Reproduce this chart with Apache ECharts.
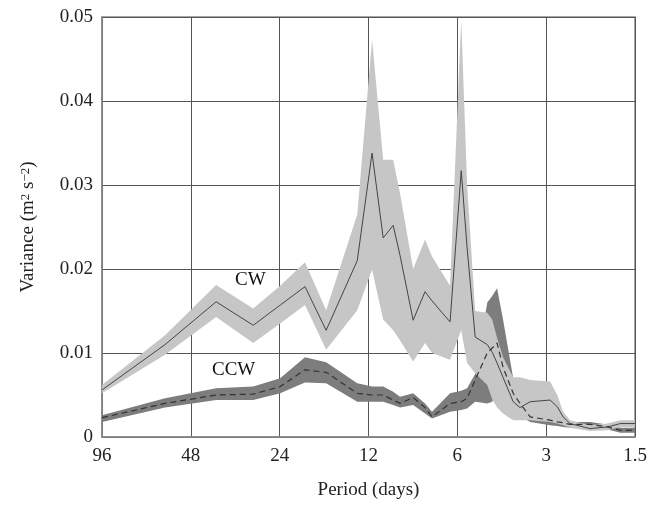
<!DOCTYPE html>
<html>
<head>
<meta charset="utf-8">
<script src="https://cdn.jsdelivr.net/npm/echarts@6/dist/echarts.min.js"></script>
<style>
  html, body { margin: 0; padding: 0; background: #fff; }
  #main { width: 650px; height: 508px; }
</style>
</head>
<body>
<div id="main"></div>
<script>
// period (days) of each spectral estimate
var periods = [96, 58.7, 39.4, 29.5, 23.9, 19.7, 16.7, 13.1, 11.67, 10.7, 9.9, 9.38, 8.47, 7.72, 7.31,
    6.35, 5.82, 5.56, 5.22, 4.75, 4.57, 4.40, 4.20, 3.88, 3.68, 3.40, 2.91, 2.75, 2.63, 2.49, 2.13, 1.86, 1.68, 1.5];

// clockwise variance and its confidence band
var cwMean = [0.0056, 0.0110, 0.0161, 0.0133, 0.0157, 0.0179, 0.0127, 0.0210, 0.0338, 0.0237, 0.0252, 0.0216, 0.0139, 0.0173, 0.0162,
    0.0137, 0.0317, 0.0225, 0.0119, 0.0110, 0.0101, 0.0088, 0.0071, 0.0042, 0.0035, 0.0042, 0.0044, 0.0036, 0.0024, 0.0016, 0.0010, 0.0012, 0.0016, 0.0016];
var cwUpper = [0.0062, 0.0121, 0.0181, 0.0153, 0.0180, 0.0208, 0.0151, 0.0265, 0.0473, 0.0330, 0.0330, 0.0290, 0.0200, 0.0235, 0.0215,
    0.0180, 0.0497, 0.0300, 0.0150, 0.0148, 0.0140, 0.0118, 0.0095, 0.0071, 0.0071, 0.0068, 0.0066, 0.0050, 0.0030, 0.0020, 0.0014, 0.0016, 0.0020, 0.0020];
var cwLower = [0.0052, 0.0098, 0.0143, 0.0112, 0.0135, 0.0157, 0.0104, 0.0151, 0.0199, 0.0140, 0.0127, 0.0115, 0.0090, 0.0112, 0.0100,
    0.0092, 0.0127, 0.0088, 0.0076, 0.0062, 0.0045, 0.0035, 0.0028, 0.0020, 0.0020, 0.0020, 0.0018, 0.0016, 0.0014, 0.0011, 0.0007, 0.0008, 0.0012, 0.0012];

// counter-clockwise variance and its confidence band
var ccwMean = [0.0023, 0.0040, 0.0050, 0.0051, 0.0060, 0.0080, 0.0077, 0.0052, 0.0050, 0.0050, 0.0044, 0.0040, 0.0047, 0.0035, 0.0024,
    0.0040, 0.0042, 0.0046, 0.0068, 0.0100, 0.0106, 0.0112, 0.0083, 0.0052, 0.0040, 0.0024, 0.0020, 0.0018, 0.0017, 0.0015, 0.0015, 0.0012, 0.0008, 0.0008];
var ccwUpper = [0.0026, 0.0046, 0.0058, 0.0060, 0.0070, 0.0095, 0.0089, 0.0064, 0.0060, 0.0060, 0.0054, 0.0048, 0.0052, 0.0040, 0.0030,
    0.0052, 0.0055, 0.0058, 0.0075, 0.0160, 0.0168, 0.0177, 0.0140, 0.0070, 0.0050, 0.0032, 0.0024, 0.0022, 0.0020, 0.0018, 0.0018, 0.0015, 0.0011, 0.0011];
var ccwLower = [0.0018, 0.0035, 0.0044, 0.0044, 0.0052, 0.0065, 0.0064, 0.0042, 0.0042, 0.0042, 0.0038, 0.0035, 0.0038, 0.0028, 0.0022,
    0.0030, 0.0032, 0.0034, 0.0042, 0.0040, 0.0042, 0.0055, 0.0055, 0.0032, 0.0025, 0.0018, 0.0014, 0.0013, 0.0012, 0.0011, 0.0011, 0.0009, 0.0005, 0.0005];

var tickPeriods = [96, 48, 24, 12, 6, 3, 1.5];

// x position = octaves from 96 days
function oct(p) { return Math.log(96 / p) / Math.LN2; }
function pairs(vals) {
    return periods.map(function (p, i) { return [oct(p), vals[i]]; });
}
function bandData(up, lo) {
    return periods.map(function (p, i) { return [oct(p), up[i], lo[i]]; });
}
// one polygon for the whole band, drawn on the first item
function bandSeries(up, lo, color, z) {
    var data = bandData(up, lo);
    return {
        type: 'custom',
        data: data,
        encode: { x: 0, y: [1, 2] },
        z: z,
        silent: true,
        renderItem: function (params, api) {
            if (params.dataIndex !== 0) return;
            var pts = [];
            for (var i = 0; i < data.length; i++) pts.push(api.coord([data[i][0], data[i][1]]));
            for (var j = data.length - 1; j >= 0; j--) pts.push(api.coord([data[j][0], data[j][2]]));
            return {
                type: 'polygon',
                shape: { points: pts },
                style: { fill: color, stroke: null }
            };
        }
    };
}

var font = 'Liberation Serif';
var chart = echarts.init(document.getElementById('main'));
var option = {
    animation: false,
    backgroundColor: '#fff',
    grid: {
        left: 102, right: 15, top: 17, bottom: 71,
        show: true, borderColor: '#8a8a8a', borderWidth: 1.5
    },
    xAxis: {
        type: 'value',
        min: 0, max: 6, interval: 1,
        name: 'Period (days)',
        nameLocation: 'middle',
        nameGap: 44,
        nameTextStyle: { fontFamily: font, fontSize: 19, color: '#222' },
        axisLine: { lineStyle: { color: '#8a8a8a', width: 1.5 } },
        axisTick: { show: false },
        axisLabel: {
            fontFamily: font, fontSize: 19, color: '#222', margin: 10,
            formatter: function (v) { return String(tickPeriods[Math.round(v)]); }
        },
        splitLine: { show: true, lineStyle: { color: '#555', width: 1 } }
    },
    yAxis: {
        type: 'value',
        min: 0, max: 0.05, interval: 0.01,
        name: 'Variance (m{sup|2} s{sup|\u22122})',
        nameLocation: 'middle',
        nameGap: 64,
        nameTextStyle: {
            fontFamily: font, fontSize: 19, color: '#222',
            rich: { sup: { fontFamily: font, fontSize: 13, color: '#222', verticalAlign: 'top', padding: [0, 0, 6, 0] } }
        },
        axisLine: { lineStyle: { color: '#8a8a8a', width: 1.5 } },
        axisTick: { show: false },
        axisLabel: {
            fontFamily: font, fontSize: 19, color: '#222', margin: 9,
            formatter: function (v) { return v === 0 ? '0' : v.toFixed(2); }
        },
        splitLine: { show: true, lineStyle: { color: '#555', width: 1 } }
    },
    series: [
        bandSeries(ccwUpper, ccwLower, '#7d7d7d', 2),
        bandSeries(cwUpper, cwLower, '#c6c6c6', 3),
        { type: 'line', name: 'CW', data: pairs(cwMean), symbol: 'none',
          lineStyle: { color: '#444', width: 1 }, z: 4 },
        { type: 'line', name: 'CCW', data: pairs(ccwMean), symbol: 'none',
          lineStyle: { color: '#333', width: 1.2, type: [6, 4] }, z: 4 }
    ],
    graphic: [
        { type: 'text', left: 235, top: 271, style: { text: 'CW', font: '19px "Liberation Serif"', fill: '#111' } },
        { type: 'text', left: 212, top: 361, style: { text: 'CCW', font: '19px "Liberation Serif"', fill: '#111' } }
    ]
};
chart.setOption(option);
</script>
</body>
</html>
